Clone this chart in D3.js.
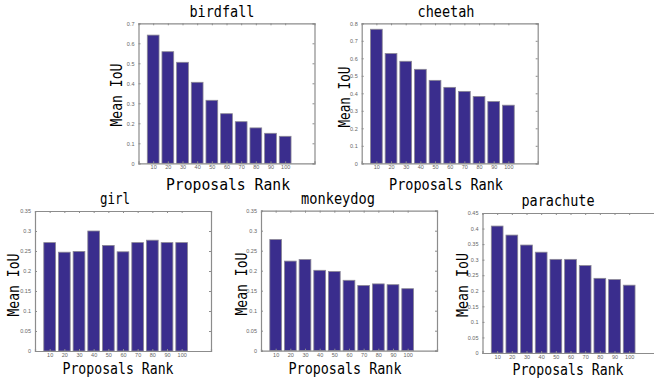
<!DOCTYPE html>
<html>
<head>
<meta charset="utf-8">
<script src="https://cdn.jsdelivr.net/npm/d3@7"></script>
<style>
  body { margin: 0; background: #fff; }
  svg { display: block; }
  .tick text { font-family: "Liberation Sans", sans-serif; font-size: 5.5px; fill: #666; }
  .lab { font-family: "DejaVu Sans Mono", monospace; font-size: 16px; fill: #000; }
  .ttl { font-size: 15px; }
  .xl { font-size: 16px; }
</style>
</head>
<body>
<svg id="chart" width="654" height="379"></svg>
<script>
// proposal ranks on the x axis
var ranks = [10, 20, 30, 40, 50, 60, 70, 80, 90, 100];

// mean IoU per video
var birdfall  = [0.641, 0.558, 0.505, 0.405, 0.315, 0.248, 0.208, 0.177, 0.150, 0.135];
var cheetah   = [0.766, 0.627, 0.583, 0.537, 0.474, 0.434, 0.411, 0.382, 0.353, 0.332];
var girl      = [0.271, 0.247, 0.249, 0.300, 0.264, 0.248, 0.271, 0.277, 0.271, 0.271];
var monkeydog = [0.278, 0.224, 0.228, 0.201, 0.198, 0.176, 0.163, 0.167, 0.165, 0.155];
var parachute = [0.408, 0.379, 0.347, 0.324, 0.301, 0.301, 0.281, 0.240, 0.236, 0.218];

var titles = ["birdfall", "cheetah", "girl", "monkeydog", "parachute"];
var series = [birdfall, cheetah, girl, monkeydog, parachute];
var yMax   = [0.7, 0.8, 0.35, 0.35, 0.45];
var yStep  = [0.1, 0.1, 0.05, 0.05, 0.05];

// where each small axes sits on the page
var panels = [
  {x: 138.5, y: 23.3,  tx: 222, ty: 16.5,  tw: 65, lx: 228, ly: 189.5, lw: 124, yx: 116, yy: 95,  yw: 63},
  {x: 361.7, y: 23.3,  tx: 446, ty: 16.5,  tw: 57, lx: 446, ly: 189.5, lw: 114, yx: 344, yy: 97,  yw: 61},
  {x: 35,    y: 211,   tx: 115, ty: 203.5, tw: 30, lx: 118, ly: 374,   lw: 111, yx: 13,  yy: 285, yw: 63},
  {x: 261,   y: 210.7, tx: 338, ty: 203.5, tw: 74, lx: 345, ly: 374,   lw: 113, yx: 241, yy: 284, yw: 63},
  {x: 482.5, y: 213,   tx: 558, ty: 206,   tw: 73, lx: 568, ly: 374.5, lw: 111, yx: 462, yy: 285, yw: 64}
];

var W = 176, H = 140;
var svg = d3.select("#chart");

for (let p = 0; p < panels.length; p++) {
    var pn = panels[p];
    var vals = series[p];

    var x = d3.scaleLinear().domain([0, 12]).range([pn.x, pn.x + W]);
    var y = d3.scaleLinear().domain([0, yMax[p]]).range([pn.y + H, pn.y]);
    var yt = d3.range(0, yMax[p] + 1e-9, yStep[p]);
    var xt = d3.range(1, ranks.length + 1);

    var g = svg.append("g");

    // bars
    g.selectAll("rect.bar")
    .data(vals)
    .enter()
    .append("rect")
    .attr("class", "bar")
    .attr("x", function(d, i) { return x(i + 1 - 0.4); })
    .attr("y", function(d) { return y(d); })
    .attr("width", x(0.8) - x(0))
    .attr("height", function(d) { return y(0) - y(d); })
    .style("fill", "#3a2d8d")
    .style("stroke", "#8a8794")
    .style("stroke-width", 0.8);

    // axes with inward ticks on all four sides
    var ax = [
      g.append("g").attr("transform", "translate(0," + (pn.y + H) + ")")
        .call(d3.axisBottom(x).tickValues(xt).tickSize(-2).tickPadding(2.2).tickFormat(function(d) { return ranks[d - 1]; })),
      g.append("g").attr("transform", "translate(0," + pn.y + ")")
        .call(d3.axisTop(x).tickValues(xt).tickSize(-2).tickFormat("")),
      g.append("g").attr("transform", "translate(" + pn.x + ",0)")
        .call(d3.axisLeft(y).tickValues(yt).tickSize(-2).tickPadding(4).tickFormat(function(d) { return d3.format("~g")(+d.toFixed(2)); })),
      g.append("g").attr("transform", "translate(" + (pn.x + W) + ",0)")
        .call(d3.axisRight(y).tickValues(yt).tickSize(-2).tickFormat(""))
    ];
    ax.forEach(function(a) {
        a.select(".domain").attr("stroke", "#8c8c8c").attr("stroke-width", 1.2);
        a.selectAll(".tick line").attr("stroke", "#8c8c8c");
    });

    // title, x label, y label
    g.append("text").attr("class", "lab ttl")
    .attr("x", pn.tx).attr("y", pn.ty)
    .attr("text-anchor", "middle")
    .attr("textLength", pn.tw).attr("lengthAdjust", "spacingAndGlyphs")
    .text(titles[p]);

    g.append("text").attr("class", "lab xl")
    .attr("x", pn.lx).attr("y", pn.ly)
    .attr("text-anchor", "middle")
    .attr("textLength", pn.lw).attr("lengthAdjust", "spacingAndGlyphs")
    .text("Proposals Rank");

    g.append("text").attr("class", "lab")
    .attr("transform", "translate(" + (pn.yx + 6) + "," + pn.yy + ") rotate(-90)")
    .attr("text-anchor", "middle")
    .attr("textLength", pn.yw).attr("lengthAdjust", "spacingAndGlyphs")
    .text("Mean IoU");
}
</script>
</body>
</html>
